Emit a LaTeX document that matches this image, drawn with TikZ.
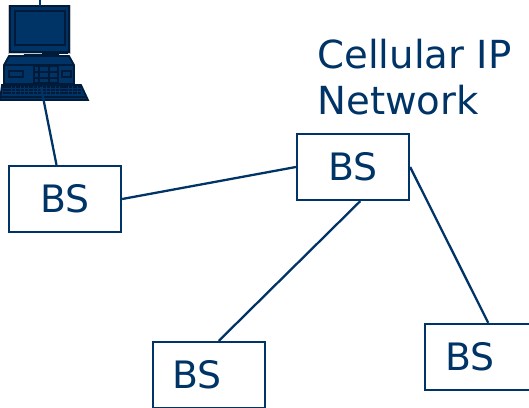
\documentclass[tikz,border=0pt]{standalone}
\usepackage{fontspec}
\setmainfont{DejaVu Sans}
\usepackage{tikz}
\definecolor{netblue}{HTML}{003366}
\definecolor{pcdark}{HTML}{001A3A}
\tikzset{
  bsbox/.style={draw=netblue,line width=1.3pt,minimum width=2.24cm,minimum height=1.32cm,inner sep=0pt,text=netblue,font=\fontsize{21.5}{26}\selectfont},
  link/.style={draw=netblue,line width=1.3pt},
  pcpart/.style={fill=netblue,draw=pcdark,line width=1pt}
}

\begin{document}
\begin{tikzpicture}[x=.02cm,y=-.02cm]
\useasboundingbox (0,0) rectangle (529,407);

% computer
\fill[gray!45] (8,5) rectangle (71,54);
\draw[pcpart] (10,6) rectangle (69,52);
\draw[pcpart] (15,11) rectangle (65,45);
\draw[pcpart] (25,55) -- (58,55) -- (56,61) -- (27,61) -- cycle;
\draw[pcpart] (9,56) -- (69,56) -- (74,65) -- (74,84) -- (4,84) -- (4,65) -- cycle;
\draw[pcdark,line width=1pt] (4,65) -- (74,65);
\draw[pcpart] (9,71) rectangle (23,77);
\draw[pcpart] (34,66) rectangle (58,83);
\draw[pcdark,line width=1pt] (34,72) -- (58,72) (34,78) -- (58,78) (39,66) -- (39,83) (49,66) -- (49,83);
\draw[pcpart] (62,71) rectangle (71,77);
\fill[pcdark] (42,51) rectangle (68,54);
\draw[pcpart] (2,85) -- (81,85) -- (88,100) -- (0,100) -- cycle;
\foreach \row in {87,90,93}
  \draw[pcdark,line width=1.4pt,dash pattern=on 2pt off .5pt] (3,\row) -- (82,\row);
\draw[pcdark,line width=1pt] (0,97) -- (87,97);

\coordinate (pctop) at (40,0);
\coordinate (pcin) at (40,6);
\coordinate (pcout) at (41,87);

% base stations
\node[bsbox] (bsleft) at (65,199) {BS};
\node[bsbox] (bsmain) at (353,167) {BS};
\node[bsbox] (bslow) at (209,375) {BS\hspace*{.48cm}};
\node[bsbox] (bsright) at (481,357) {BS\hspace*{.44cm}};

\node[text=netblue,font=\fontsize{22}{26}\selectfont,align=left,anchor=north west,inner sep=0pt] (netlabel) at (317,39) {Cellular IP\\Network};

\draw[link] (pctop) -- (pcin);
\draw[link] (pcout) -- (bsleft.104);
\draw[link] (bsleft.east) -- (bsmain.west);
\draw[link] (bsmain.-78) -- (bslow.74);
\draw[link] (bsmain.east) -- (bsright.78);

\end{tikzpicture}
\end{document}
